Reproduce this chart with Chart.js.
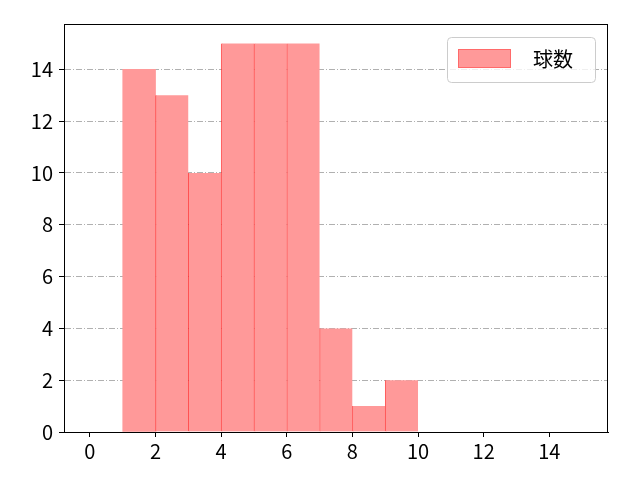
<!DOCTYPE html>
<html>
<head>
<meta charset="utf-8">
<script src="https://cdn.jsdelivr.net/npm/chart.js@4"></script>
<style>
  body { margin: 0; background: #fff; }
  #wrap { width: 640px; height: 480px; }
</style>
</head>
<body>
<div id="wrap"><canvas id="myChart" width="640" height="480"></canvas></div>
<script>
const binStarts = [1, 2, 3, 4, 5, 6, 7, 8, 9];
const counts = [14, 13, 10, 15, 15, 15, 4, 1, 2];
const xTicks = [0, 2, 4, 6, 8, 10, 12, 14];
const yTicks = [0, 2, 4, 6, 8, 10, 12, 14];
const seriesLabel = '球数';

const FONT = "'Noto Sans CJK JP', 'DejaVu Sans', sans-serif";

// spines on all four sides plus the boxed legend, like matplotlib
const framePlugin = {
  id: 'frame',
  afterDraw(chart) {
    const { ctx, chartArea: a } = chart;
    ctx.save();
    ctx.strokeStyle = '#000';
    ctx.lineWidth = 1;
    ctx.strokeRect(a.left + 0.5, a.top + 0.5, a.right - a.left - 1, a.bottom - a.top);

    const ds = chart.data.datasets[0];
    const bx = a.right - 161, by = a.top + 13, bw = 148, bh = 45;
    ctx.beginPath();
    ctx.roundRect(bx + 0.5, by + 0.5, bw, bh, 4);
    ctx.fillStyle = 'rgba(255,255,255,0.8)';
    ctx.fill();
    ctx.strokeStyle = '#cccccc';
    ctx.stroke();
    ctx.fillStyle = ds.backgroundColor;
    ctx.fillRect(bx + 11, by + 12, 53, 19);
    ctx.strokeStyle = 'rgba(255, 0, 0, 0.3)';
    ctx.strokeRect(bx + 11.5, by + 12.5, 52, 18);
    ctx.fillStyle = '#000';
    ctx.font = '20px ' + FONT;
    ctx.textBaseline = 'middle';
    ctx.fillText(ds.label, bx + 86, by + 22);
    ctx.restore();
  }
};

new Chart(document.getElementById('myChart'), {
  type: 'bar',
  data: {
    datasets: [{
      label: seriesLabel,
      data: binStarts.map((b, i) => ({ x: b + 0.5, y: counts[i] })),
      backgroundColor: '#ff9999',
      borderColor: 'rgba(255, 30, 30, 0.75)',
      // only the shared edge between neighbouring bins is drawn darker
      borderWidth: (c) => ({ left: c.dataIndex > 0 ? 1 : 0, top: 0, right: 0, bottom: 0 }),
      borderSkipped: false,
      barPercentage: 1,
      categoryPercentage: 1,
      grouped: false
    }]
  },
  options: {
    responsive: false,
    animation: false,
    layout: { padding: { top: 24, right: 32, left: 0, bottom: 0 } },
    plugins: {
      legend: { display: false },
      tooltip: { enabled: false }
    },
    scales: {
      x: {
        type: 'linear',
        offset: false,
        min: -0.79,
        max: 15.79,
        afterBuildTicks: (s) => { s.ticks = xTicks.map(v => ({ value: v })); },
        afterFit: (s) => { s.height = 48; },
        ticks: {
          color: '#000',
          font: { family: FONT, size: 20 },
          padding: 2,
          maxRotation: 0
        },
        grid: {
          offset: false,
          drawOnChartArea: false,
          color: '#000',
          tickLength: 5
        },
        border: { color: '#000' }
      },
      y: {
        min: 0,
        max: 15.75,
        afterBuildTicks: (s) => { s.ticks = yTicks.map(v => ({ value: v })); },
        afterFit: (s) => { s.width = 64; },
        ticks: {
          color: '#000',
          font: { family: FONT, size: 20 },
          padding: 6
        },
        grid: {
          color: '#b0b0b0',
          lineWidth: 1,
          tickColor: '#000',
          tickBorderDash: [],
          tickLength: 5
        },
        border: { color: '#000', dash: [6, 2, 1, 2] }
      }
    }
  },
  plugins: [framePlugin]
});
</script>
</body>
</html>
